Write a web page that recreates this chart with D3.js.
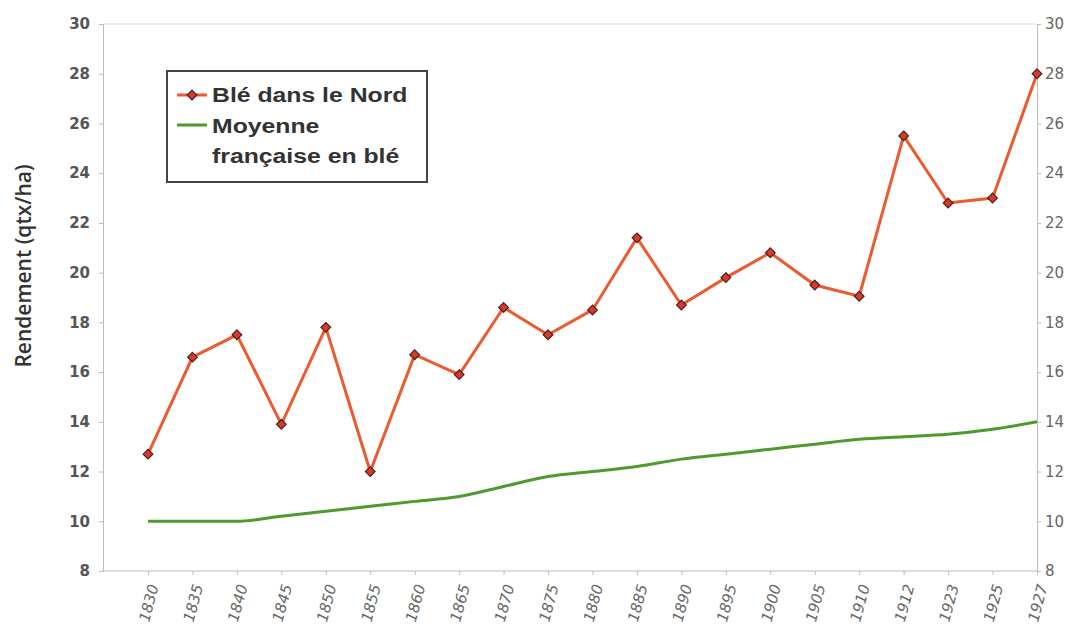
<!DOCTYPE html>
<meta charset="utf-8">
<script src="https://cdnjs.cloudflare.com/ajax/libs/d3/7.8.5/d3.min.js"></script>
<style>
  body { margin: 0; background: #fff; font-family: "Liberation Sans", Arial, sans-serif; }
  .axis-left text { fill: #555; font-size: 15px; font-weight: bold; font-family: "DejaVu Sans", sans-serif; }
  .axis-right text { fill: #666; font-size: 15px; font-family: "DejaVu Sans", sans-serif; }
  .axis-x text { fill: #666; font-size: 15px; font-style: italic; font-family: "DejaVu Sans", sans-serif; }
  .domain, .tick line { stroke: #bbb; }
</style>
<body></body>
<script>

// data
var years = ["1830", "1835", "1840", "1845", "1850", "1855", "1860", "1865", "1870", "1875",
             "1880", "1885", "1890", "1895", "1900", "1905", "1910", "1912", "1923", "1925", "1927"];
var nord = [12.7, 16.6, 17.5, 13.9, 17.8, 12.0, 16.7, 15.9, 18.6, 17.5,
            18.5, 21.4, 18.7, 19.8, 20.8, 19.5, 19.05, 25.5, 22.8, 23.0, 28.0];
var france = [10.0, 10.0, 10.0, 10.2, 10.4, 10.6, 10.8, 11.0, 11.4, 11.8,
              12.0, 12.2, 12.5, 12.7, 12.9, 13.1, 13.3, 13.4, 13.5, 13.7, 14.0];
var yTicks = [8, 10, 12, 14, 16, 18, 20, 22, 24, 26, 28, 30];

var W = 1072, H = 626;
var m = {left: 103, right: 1037, top: 24, bottom: 571};

var svg = d3.select("body").append("svg")
    .attr("width", W)
    .attr("height", H);

var x = d3.scalePoint().domain(years).range([148, m.right]);
var y = d3.scaleLinear().domain([8, 30]).range([m.bottom, m.top]);

// frame: top line
svg.append("line")
    .attr("x1", m.left).attr("x2", m.right)
    .attr("y1", m.top).attr("y2", m.top)
    .attr("stroke", "#ddd");

svg.append("g")
    .attr("class", "axis-left")
    .attr("transform", "translate(" + m.left + ",0)")
    .call(d3.axisLeft(y).tickValues(yTicks).tickSize(4).tickPadding(9));

svg.append("g")
    .attr("class", "axis-right")
    .attr("transform", "translate(" + m.right + ",0)")
    .call(d3.axisRight(y).tickValues(yTicks).tickSize(4).tickPadding(4));

var xAxis = svg.append("g")
    .attr("class", "axis-x")
    .attr("transform", "translate(0," + m.bottom + ")")
    .call(d3.axisBottom(x).tickSize(4));
xAxis.select(".domain").attr("d", "M" + m.left + ",0H" + m.right);
xAxis.selectAll("text")
    .attr("text-anchor", "end")
    .attr("dx", "-0.4em")
    .attr("dy", "0.35em")
    .attr("transform", "translate(0,6) rotate(-75)");

svg.append("text")
    .attr("transform", "translate(31,266) rotate(-90)")
    .attr("text-anchor", "middle")
    .attr("fill", "#333")
    .style("font-size", "21px")
    .style("font-weight", 600)
    .style("font-family", "'Open Sans', sans-serif")
    .text("Rendement (qtx/ha)");

// series
var line = d3.line()
    .x(function(d, i) { return x(years[i]); })
    .y(function(d) { return y(d); });

svg.append("path")
    .datum(france)
    .attr("fill", "none")
    .attr("stroke", "#4e9a2c")
    .attr("stroke-width", 3)
    .attr("d", line.curve(d3.curveMonotoneX));

svg.append("path")
    .datum(nord)
    .attr("fill", "none")
    .attr("stroke", "#ec5a30")
    .attr("stroke-width", 3)
    .attr("d", line.curve(d3.curveLinear));

var diamond = d3.symbol().type(d3.symbolDiamond2).size(60);

svg.selectAll(".pt")
    .data(nord)
  .enter().append("path")
    .attr("class", "pt")
    .attr("transform", function(d, i) { return "translate(" + x(years[i]) + "," + y(d) + ")"; })
    .attr("d", diamond)
    .attr("fill", "#d83a2a")
    .attr("stroke", "#4a2020")
    .attr("stroke-width", 1.2);

// legend
var lg = svg.append("g");
lg.append("rect")
    .attr("x", 167).attr("y", 71)
    .attr("width", 260).attr("height", 111)
    .attr("fill", "#fff")
    .attr("stroke", "#444")
    .attr("stroke-width", 2);

lg.append("line")
    .attr("x1", 177).attr("x2", 207)
    .attr("y1", 95).attr("y2", 95)
    .attr("stroke", "#ec5a30").attr("stroke-width", 3);
lg.append("path")
    .attr("transform", "translate(192,95)")
    .attr("d", diamond)
    .attr("fill", "#d83a2a")
    .attr("stroke", "#4a2020")
    .attr("stroke-width", 1.2);
lg.append("line")
    .attr("x1", 177).attr("x2", 207)
    .attr("y1", 125).attr("y2", 125)
    .attr("stroke", "#4e9a2c").attr("stroke-width", 3);

var labels = [["Blé dans le Nord", 95], ["Moyenne", 126], ["française en blé", 156]];
lg.selectAll(".lt")
    .data(labels)
  .enter().append("text")
    .attr("transform", function(d) { return "translate(212," + d[1] + ") scale(1.18,1)"; })
    .attr("dy", "0.35em")
    .attr("fill", "#333")
    .style("font-size", "21px")
    .style("font-weight", "bold")
    .text(function(d) { return d[0]; });

</script>
